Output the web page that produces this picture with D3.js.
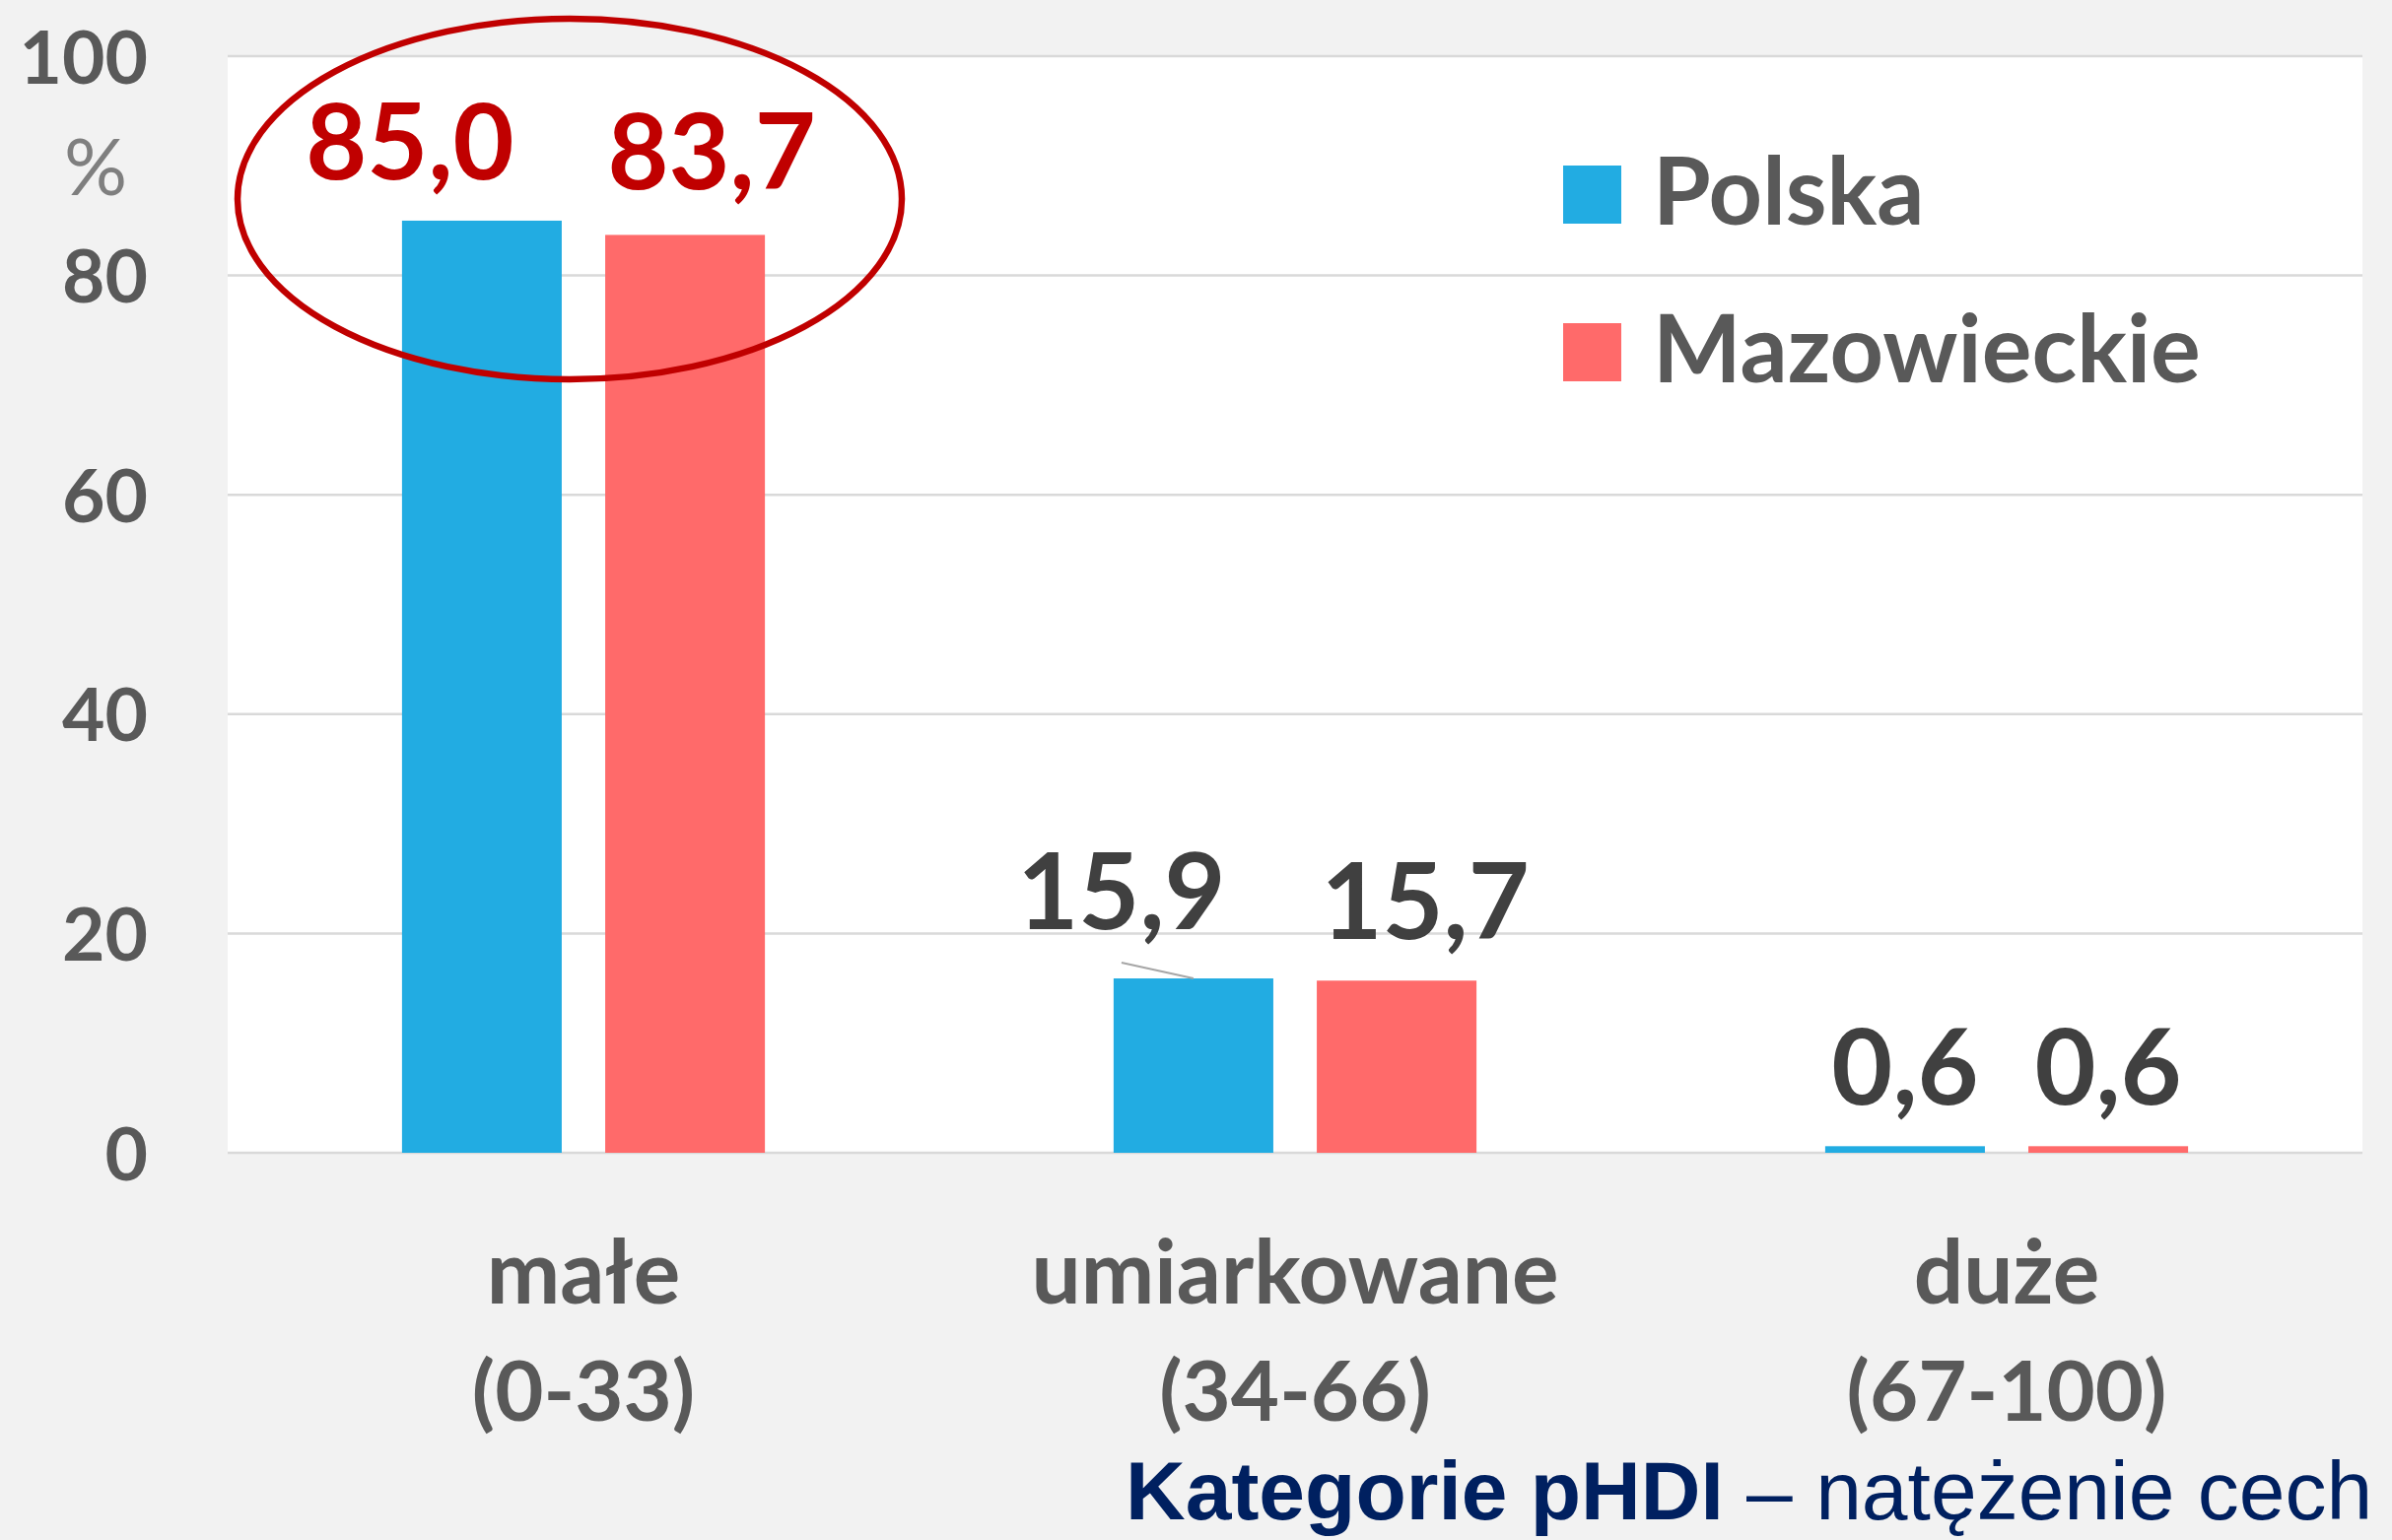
<!DOCTYPE html>
<html><head><meta charset="utf-8">
<script src="https://cdn.jsdelivr.net/npm/d3@7"></script>
<style>html,body{margin:0;padding:0;background:#f2f2f2;overflow:hidden}</style>
</head><body>
<svg id="c" width="2427" height="1563"></svg>
<script>
const categories = ["małe", "umiarkowane", "duże"];
const categoryRanges = ["(0-33)", "(34-66)", "(67-100)"];
const seriesNames = ["Polska", "Mazowieckie"];
const polskaValues = [85.0, 15.9, 0.6];
const mazowieckieValues = [83.7, 15.7, 0.6];
const yTicks = [0, 20, 40, 60, 80, 100];
const highlightedCategory = "małe";
const xAxisTitleBold = "Kategorie pHDI";
const xAxisTitleRest = " – natężenie cech";

// manual label nudges (pixels), [category][series]
const labelNudgeX = [[-73, 27], [-73, 29], [0, 0]];
const labelNudgeY = [[0, -4], [-8, 0], [0, 0]];
const leaderLines = [[false, false], [true, false], [false, false]];

const colors = ["#22ace2", "#ff6a6a"];
const W = 2427, H = 1563;
const M = {left: 231, right: 2397, top: 57, bottom: 1170};

const svg = d3.select("#c");
svg.append("rect").attr("width", W).attr("height", H).attr("fill", "#f2f2f2");
svg.append("rect").attr("x", M.left).attr("y", M.top)
  .attr("width", M.right - M.left).attr("height", M.bottom - M.top).attr("fill", "#ffffff");

const x0 = d3.scaleBand().domain(categories).range([M.left, M.right]).padding(0);
const bw = x0.bandwidth();
const x1 = d3.scaleBand().domain(seriesNames).range([bw * 0.245, bw * 0.755]).paddingInner(0.214).paddingOuter(0);
const y = d3.scaleLinear().domain([0, 100]).range([M.bottom, M.top]);

// gridlines
svg.append("g").selectAll("line").data(yTicks).join("line")
  .attr("x1", M.left).attr("x2", M.right)
  .attr("y1", d => y(d)).attr("y2", d => y(d))
  .attr("stroke", "#d9d9d9").attr("stroke-width", 2.5);

// y axis labels
const yAxis = d3.axisLeft(y).tickValues(yTicks).tickSize(0).tickPadding(0).tickFormat(d3.format("d"));
const gy = svg.append("g").attr("transform", `translate(${M.left - 81},0)`).call(yAxis);
gy.select(".domain").remove();
gy.selectAll("text").attr("font-family", "Lato, sans-serif").attr("font-weight", 700)
  .attr("font-size", 75).attr("fill", "#595959").attr("dy", "0.36em");
svg.append("text").attr("x", 97).attr("y", 198).attr("text-anchor", "middle")
  .attr("font-family", "Lato, sans-serif").attr("font-size", 80).attr("fill", "#7f7f7f").text("%");

// data rows
const rows = categories.map((c, i) => ({cat: c, i, vals: [polskaValues[i], mazowieckieValues[i]]}));

const groups = svg.append("g").selectAll("g").data(rows).join("g")
  .attr("transform", d => `translate(${x0(d.cat)},0)`);

groups.selectAll("rect").data(d => d.vals.map((v, j) => ({v, j, s: seriesNames[j]}))).join("rect")
  .attr("x", d => x1(d.s)).attr("width", x1.bandwidth())
  .attr("y", d => y(d.v)).attr("height", d => y(0) - y(d.v))
  .attr("fill", d => colors[d.j]);

// labels
rows.forEach(r => {
  r.vals.forEach((v, j) => {
    const bx = x0(r.cat) + x1(seriesNames[j]) + x1.bandwidth() / 2;
    const lx = bx + labelNudgeX[r.i][j];
    const ly = y(v) - 42 + labelNudgeY[r.i][j];
    const red = r.cat === highlightedCategory;
    if (leaderLines[r.i][j]) {
      svg.append("line").attr("x1", lx).attr("y1", ly + 34).attr("x2", bx).attr("y2", y(v))
        .attr("stroke", "#a6a6a6").attr("stroke-width", 2);
    }
    svg.append("text").attr("x", lx).attr("y", ly).attr("text-anchor", "middle")
      .attr("font-family", "Lato, sans-serif").attr("font-weight", 700).attr("font-size", 107)
      .attr("fill", red ? "#c00000" : "#404040")
      .text(d3.format(".1f")(v).replace(".", ","));
  });
});

// highlight ellipse
const hc = x0(highlightedCategory) + bw / 2;
svg.append("ellipse").attr("cx", hc - 14).attr("cy", 202).attr("rx", 337).attr("ry", 183)
  .attr("fill", "none").attr("stroke", "#c00000").attr("stroke-width", 6.5);

// category labels
const gx = svg.append("g");
categories.forEach((c, i) => {
  const cx = x0(c) + bw / 2;
  gx.append("text").attr("x", cx).attr("y", 1323).attr("text-anchor", "middle")
    .attr("font-family", "Lato, sans-serif").attr("font-weight", 700).attr("font-size", 89)
    .attr("fill", "#595959").text(c);
  gx.append("text").attr("x", cx).attr("y", 1442).attr("text-anchor", "middle")
    .attr("font-family", "Lato, sans-serif").attr("font-weight", 700).attr("font-size", 85)
    .attr("fill", "#595959").text(categoryRanges[i]);
});

// axis title
const t = svg.append("text").attr("x", 1142).attr("y", 1542)
  .attr("font-family", "'Liberation Sans', Arial, sans-serif").attr("font-size", 84).attr("fill", "#002060");
t.append("tspan").attr("font-weight", 700).text(xAxisTitleBold);
t.append("tspan").attr("font-weight", 400).text(xAxisTitleRest);

// legend
const lg = svg.append("g");
seriesNames.forEach((s, j) => {
  const yy = 168 + j * 160;
  lg.append("rect").attr("x", 1586).attr("y", yy).attr("width", 59).attr("height", 59).attr("fill", colors[j]);
  lg.append("text").attr("x", 1677).attr("y", yy + 60)
    .attr("font-family", "Lato, sans-serif").attr("font-weight", 700).attr("font-size", 95)
    .attr("fill", "#595959").text(s);
});
</script>
</body></html>
